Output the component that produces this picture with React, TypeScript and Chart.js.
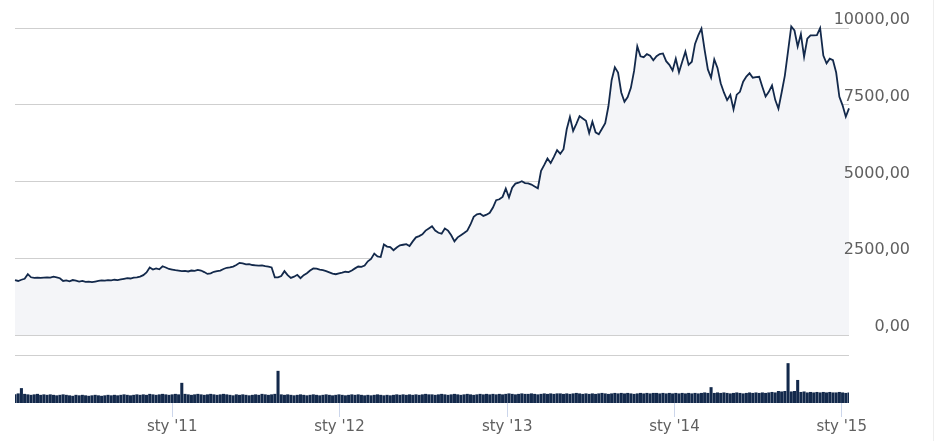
import { useEffect, useRef } from "react";
import Chart from "chart.js/auto";

// weekly closes, starting late January 2010
const PRICE = [
  1790, 1760, 1800, 1830, 1980, 1880, 1860, 1870, 1860, 1870,
  1880, 1870, 1900, 1880, 1850, 1760, 1780, 1750, 1790, 1770,
  1740, 1760, 1730, 1740, 1720, 1740, 1760, 1780, 1770, 1790,
  1780, 1800, 1790, 1810, 1830, 1850, 1840, 1870, 1880, 1900,
  1950, 2040, 2200, 2130, 2170, 2140, 2240, 2200, 2150, 2130,
  2110, 2100, 2080, 2090, 2070, 2100, 2090, 2120, 2100, 2050,
  1990, 2010, 2060, 2080, 2100, 2150, 2190, 2200, 2230, 2280,
  2350, 2330, 2300, 2310, 2280, 2270, 2260, 2270, 2240, 2230,
  2200, 1880, 1880, 1920, 2080, 1950, 1860, 1900, 1960, 1850,
  1950, 2010, 2100, 2170, 2160, 2130, 2110, 2080, 2040, 2000,
  1980, 2010, 2030, 2060, 2050, 2100, 2170, 2230, 2220, 2260,
  2400, 2480, 2650, 2560, 2540, 2950, 2880, 2860, 2760, 2850,
  2920, 2940, 2960, 2900, 3050, 3180, 3220, 3280, 3400, 3470,
  3540, 3400, 3330, 3300, 3470, 3400, 3250, 3050, 3180, 3250,
  3320, 3400, 3600, 3850, 3930, 3950, 3880, 3920, 3980, 4150,
  4390, 4420, 4500, 4770, 4480, 4800, 4930, 4960, 5010, 4950,
  4940, 4900, 4840, 4780, 5350, 5540, 5750, 5600, 5800, 6020,
  5900, 6050, 6700, 7100, 6650, 6880, 7130, 7050, 6980, 6580,
  6950, 6600, 6540, 6720, 6900, 7450, 8300, 8720, 8550, 7900,
  7600, 7750, 8050, 8600, 9400, 9080, 9050, 9150, 9100, 8950,
  9080, 9150, 9170, 8920, 8800, 8620, 9000, 8560, 8900, 9230,
  8800, 8900, 9480, 9760, 9980, 9280, 8650, 8380, 8980, 8700,
  8200, 7900, 7650, 7820, 7350, 7830, 7920, 8250, 8420, 8530,
  8380, 8400, 8410, 8080, 7770, 7920, 8130, 7660, 7370, 7900,
  8450, 9250, 10050, 9920, 9400, 9800, 9060, 9650, 9760, 9760,
  9770, 10000, 9100, 8850, 9000, 8950, 8550, 7760, 7480, 7110,
  7380,
];

const VOLUME = [
  18, 20, 31, 19, 18, 17, 18, 19, 17, 18,
  17, 18, 17, 16, 17, 18, 17, 16, 15, 17,
  16, 17, 16, 15, 16, 17, 16, 15, 16, 17,
  16, 17, 16, 17, 18, 17, 16, 17, 18, 17,
  18, 17, 19, 18, 17, 18, 19, 18, 17, 18,
  19, 18, 42, 19, 18, 17, 18, 19, 18, 17,
  18, 19, 18, 17, 18, 19, 18, 17, 16, 18,
  17, 18, 17, 16, 17, 18, 17, 19, 18, 17,
  18, 19, 67, 18, 17, 18, 17, 16, 17, 18,
  17, 16, 17, 18, 17, 16, 17, 18, 17, 16,
  17, 18, 17, 16, 17, 18, 17, 18, 17, 16,
  17, 16, 17, 18, 17, 16, 17, 16, 17, 18,
  17, 18, 17, 18, 17, 18, 17, 18, 19, 18,
  18, 17, 18, 19, 18, 17, 18, 19, 18, 17,
  18, 19, 18, 17, 18, 19, 18, 19, 18, 19,
  18, 19, 18, 19, 20, 19, 18, 19, 20, 19,
  19, 20, 19, 18, 19, 20, 19, 20, 19, 20,
  20, 19, 20, 19, 20, 21, 20, 19, 20, 19,
  20, 19, 20, 21, 20, 19, 20, 21, 20, 21,
  20, 21, 20, 19, 20, 21, 20, 21, 20, 21,
  21, 20, 21, 20, 21, 20, 21, 20, 21, 20,
  21, 20, 21, 20, 21, 22, 21, 33, 21, 22,
  21, 22, 21, 20, 21, 22, 21, 20, 21, 22,
  21, 22, 21, 22, 21, 22, 23, 22, 25, 24,
  25, 83, 24, 25, 48, 23, 24, 22, 23, 22,
  23, 22, 23, 22, 23, 22, 22, 23, 22, 21,
  22,
];

// x axis is in days counted from 1 Jan 2011
const FIRST_DAY = -343;
const LAST_DAY = 1477;
const YEAR_TICKS = [0, 365, 731, 1096, 1461];
const YEAR_LABELS = ["sty '11", "sty '12", "sty '13", "sty '14", "sty '15"];

const LINE = "#13294b";
const GRID = "#cfcfcf";
const TEXT = "#606060";

const days = PRICE.map((_, i) => FIRST_DAY + i * 7);
const priceLabel = (v: number) => v.toFixed(2).replace(".", ",");

// Chart.js clips axis labels to the axis box, but these hang over the plot,
// so they are painted after the area instead
const overlayLabels = {
  id: "overlayLabels",
  afterDatasetsDraw(chart: Chart) {
    const scale = chart.scales.y;
    const { ctx } = chart;
    ctx.save();
    ctx.fillStyle = TEXT;
    ctx.font = "16px 'DejaVu Sans'";
    ctx.textAlign = "right";
    ctx.textBaseline = "middle";
    for (const t of scale.ticks) {
      ctx.fillText(priceLabel(t.value), 910, scale.getPixelForValue(t.value) - 8);
    }
    ctx.restore();
  },
};

export default function App() {
  const priceRef = useRef<HTMLCanvasElement>(null);
  const volRef = useRef<HTMLCanvasElement>(null);

  useEffect(() => {
    if (!priceRef.current || !volRef.current) return;

    const priceChart = new Chart(priceRef.current, {
      type: "line",
      data: {
        datasets: [
          {
            data: PRICE.map((v, i) => ({ x: days[i], y: v })),
            borderColor: LINE,
            backgroundColor: "#f4f5f8",
            borderWidth: 1.8,
            fill: "origin",
            pointRadius: 0,
            tension: 0,
            clip: false,
          },
        ],
      },
      options: {
        animation: false,
        responsive: false,
        layout: { padding: { left: 15, right: 35, top: 28, bottom: 10 } },
        plugins: { legend: { display: false }, tooltip: { enabled: false } },
        scales: {
          x: { type: "linear", min: FIRST_DAY, max: LAST_DAY, display: false },
          y: {
            position: "right",
            min: 0,
            max: 10000,
            afterFit: (s) => {
              s.width = 61;
            },
            border: { display: false },
            grid: { color: GRID, drawTicks: false },
            ticks: { stepSize: 2500, display: false },
          },
        },
      },
      plugins: [overlayLabels],
    });

    const volChart = new Chart(volRef.current, {
      type: "bar",
      data: {
        datasets: [
          {
            data: VOLUME.map((v, i) => ({ x: days[i], y: v })),
            backgroundColor: LINE,
            barPercentage: 1,
            categoryPercentage: 0.95,
          },
        ],
      },
      options: {
        animation: false,
        responsive: false,
        layout: { padding: { left: 15, right: 96, top: 10, bottom: 4 } },
        plugins: { legend: { display: false }, tooltip: { enabled: false } },
        scales: {
          x: {
            type: "linear",
            offset: false,
            min: FIRST_DAY,
            max: LAST_DAY,
            afterBuildTicks: (s) => {
              s.ticks = YEAR_TICKS.map((value) => ({ value }));
            },
            border: { display: false },
            grid: {
              offset: false,
              drawOnChartArea: false,
              color: "#ccd6eb",
              tickLength: 14,
            },
            ticks: {
              padding: 1,
              maxRotation: 0,
              autoSkip: false,
              color: TEXT,
              font: { family: "DejaVu Sans", size: 15 },
              callback: (v) => YEAR_LABELS[YEAR_TICKS.indexOf(Number(v))] ?? "",
            },
          },
          y: {
            position: "right",
            min: 0,
            max: 100,
            afterBuildTicks: (s) => {
              s.ticks = [{ value: 100 }];
            },
            afterFit: (s) => {
              s.width = 0;
            },
            border: { display: false },
            grid: { color: GRID, drawTicks: false },
            ticks: { display: false },
          },
        },
      },
    });

    return () => {
      priceChart.destroy();
      volChart.destroy();
    };
  }, []);

  return (
    <div
      style={{
        position: "fixed",
        left: 0,
        top: 0,
        width: 945,
        height: 441,
        background: "#fff",
      }}
    >
      <canvas
        ref={priceRef}
        width={945}
        height={345}
        style={{ position: "absolute", left: 0, top: 0 }}
      />
      <canvas
        ref={volRef}
        width={945}
        height={96}
        style={{ position: "absolute", left: 0, top: 345 }}
      />
      <div
        style={{
          position: "absolute",
          left: 933,
          top: 0,
          width: 1,
          height: 441,
          background: "#eeeeee",
        }}
      />
    </div>
  );
}
